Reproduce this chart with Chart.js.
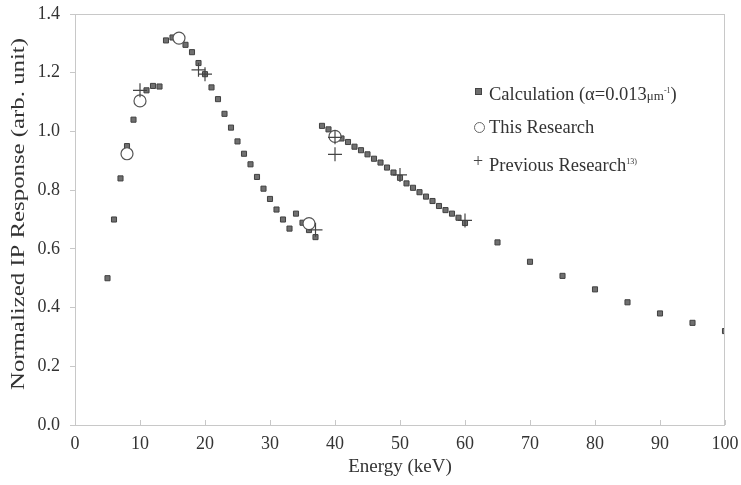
<!DOCTYPE html>
<html>
<head>
<meta charset="utf-8">
<script src="https://cdn.jsdelivr.net/npm/chart.js@4"></script>
<style>
    body { margin: 0; background: #fff; }
    #wrap { position: relative; width: 741px; height: 485px; }
    #legend { position: absolute; left: 474px; top: 80px; font-family: 'Liberation Serif', serif; font-size: 18.5px; color: #333; }
    #legend .row { position: absolute; white-space: nowrap; height: 20px; line-height: 20px; }
    #legend .mk { position: absolute; }
    #legend .txt { position: absolute; left: 15px; top: 0; }
    .sq { width: 5px; height: 5px; background: #6d6d6d; border: 1px solid #444; }
    .ci { width: 9px; height: 9px; border: 1px solid #666; border-radius: 50%; }
    .pl { font-size: 18px; color: #444; }
    .sm { font-size: 13px; }
    .sup { font-size: 8px; vertical-align: 7px; }
</style>
</head>
<body>
<div id="wrap">
    <canvas id="myChart" width="741" height="485"></canvas>
    <div id="legend">
        <div class="row" style="top:1px;">
            <span class="mk sq" style="left:1px; top:7px;"></span>
            <span class="txt">Calculation (α=0.013<span class="sm">μm</span><span class="sup">-1</span>)</span>
        </div>
        <div class="row" style="top:37px;">
            <span class="mk ci" style="left:0px; top:5px;"></span>
            <span class="txt">This Research</span>
        </div>
        <div class="row" style="top:72px;">
            <span class="mk pl" style="left:-1px; top:-1px;">+</span>
            <span class="txt">Previous Research<span class="sup">13)</span></span>
        </div>
    </div>
</div>
<script>
// values
const calcEnergy = [5, 6, 7, 8, 9, 10, 11, 12, 13, 14, 15, 16, 17, 18, 19, 20, 21, 22, 23, 24, 25,
    26, 27, 28, 29, 30, 31, 32, 33, 34, 35, 36, 37,
    38, 39, 40, 41, 42, 43, 44, 45, 46, 47, 48, 49, 50, 51, 52, 53, 54, 55, 56, 57, 58, 59, 60,
    65, 70, 75, 80, 85, 90, 95, 100];
const calcResponse = [0.50, 0.70, 0.84, 0.95, 1.04, 1.10, 1.14, 1.155, 1.153, 1.31, 1.32, 1.32, 1.295, 1.27, 1.233, 1.195, 1.15, 1.11, 1.06, 1.013, 0.966,
    0.924, 0.888, 0.845, 0.805, 0.77, 0.734, 0.70, 0.669, 0.72, 0.689, 0.664, 0.64,
    1.019, 1.007, 0.985, 0.976, 0.964, 0.948, 0.936, 0.922, 0.907, 0.894, 0.877, 0.86, 0.842, 0.823, 0.808, 0.793, 0.778, 0.763, 0.746, 0.732, 0.72, 0.706, 0.688,
    0.622, 0.556, 0.508, 0.462, 0.418, 0.38, 0.348, 0.32];

const thisEnergy = [8, 10, 16, 36, 40];
const thisResponse = [0.924, 1.104, 1.318, 0.686, 0.983];

const prevEnergy = [10, 19, 20, 37, 40, 40, 50, 60];
const prevResponse = [1.14, 1.21, 1.195, 0.665, 0.98, 0.922, 0.852, 0.697];

const xTicks = [0, 10, 20, 30, 40, 50, 60, 70, 80, 90, 100];
const yTicks = [0.0, 0.2, 0.4, 0.6, 0.8, 1.0, 1.2, 1.4];

const yTitle = 'Normalized IP Response (arb. unit)';

function toPoints(xs, ys) {
    return xs.map(function (x, i) { return { x: x, y: ys[i] }; });
}

const serif = 'Liberation Serif';
const textColor = '#333';
const lineColor = '#c8c8c8';

// frame around the plot area, inward x ticks, and the y title
const framePlugin = {
    id: 'frame',
    afterDraw(chart) {
        const ctx = chart.ctx;
        const a = chart.chartArea;
        const xs = chart.scales.x;
        ctx.save();
        ctx.strokeStyle = lineColor;
        ctx.lineWidth = 1;
        ctx.strokeRect(a.left + 0.5, a.top + 0.5, a.right - a.left - 1, a.bottom - a.top);
        ctx.beginPath();
        xTicks.forEach(function (v) {
            const px = Math.round(xs.getPixelForValue(v)) + 0.5;
            ctx.moveTo(px, a.bottom);
            ctx.lineTo(px, a.bottom - 5);
        });
        ctx.stroke();

        // y axis title, a bit long like in the figure
        ctx.font = '19px ' + serif;
        ctx.fillStyle = textColor;
        ctx.textAlign = 'center';
        ctx.textBaseline = 'middle';
        const w = ctx.measureText(yTitle).width;
        ctx.translate(19, 214);
        ctx.rotate(-Math.PI / 2);
        ctx.scale(352 / w, 1);
        ctx.fillText(yTitle, 0, 0);
        ctx.restore();
    }
};

const ctx = document.getElementById('myChart');
new Chart(ctx, {
    type: 'scatter',
    data: {
        datasets: [
            {
                label: 'Previous Research',
                data: toPoints(prevEnergy, prevResponse),
                pointStyle: 'cross',
                pointRadius: 7,
                borderColor: '#444',
                borderWidth: 1.2,
                order: 0
            },
            {
                label: 'This Research',
                data: toPoints(thisEnergy, thisResponse),
                pointStyle: 'circle',
                pointRadius: 6,
                backgroundColor: '#fff',
                borderColor: '#555',
                borderWidth: 1.2,
                order: 1
            },
            {
                label: 'Calculation',
                data: toPoints(calcEnergy, calcResponse),
                pointStyle: 'rect',
                pointRadius: 3.6,
                backgroundColor: '#707070',
                borderColor: '#404040',
                borderWidth: 1,
                order: 2
            }
        ]
    },
    options: {
        responsive: false,
        animation: false,
        events: [],
        layout: { padding: { left: 0, right: 16, top: 14, bottom: 0 } },
        plugins: {
            legend: { display: false },
            tooltip: { enabled: false }
        },
        scales: {
            x: {
                type: 'linear',
                min: 0,
                max: 100,
                afterFit: function (s) { s.height = 60; s.paddingLeft = 0; s.paddingRight = 0; },
                afterBuildTicks: function (s) { s.ticks = xTicks.map(function (v) { return { value: v }; }); },
                grid: { display: true, drawOnChartArea: false, drawTicks: false },
                border: { display: false },
                ticks: { padding: 8, color: textColor, font: { family: serif, size: 18 } },
                title: {
                    display: true,
                    text: 'Energy (keV)',
                    color: textColor,
                    font: { family: serif, size: 19 },
                    padding: { top: 0, bottom: 7 }
                }
            },
            y: {
                type: 'linear',
                min: 0,
                max: 1.4,
                afterFit: function (s) { s.width = 75; s.paddingTop = 0; s.paddingBottom = 0; },
                afterBuildTicks: function (s) { s.ticks = yTicks.map(function (v) { return { value: v }; }); },
                grid: { display: true, drawOnChartArea: false, drawTicks: true, tickLength: 5, color: lineColor },
                border: { display: false },
                ticks: {
                    padding: 10,
                    color: textColor,
                    font: { family: serif, size: 18 },
                    callback: function (v) { return v.toFixed(1); }
                },
                title: { display: false }
            }
        }
    },
    plugins: [framePlugin]
});
</script>
</body>
</html>
